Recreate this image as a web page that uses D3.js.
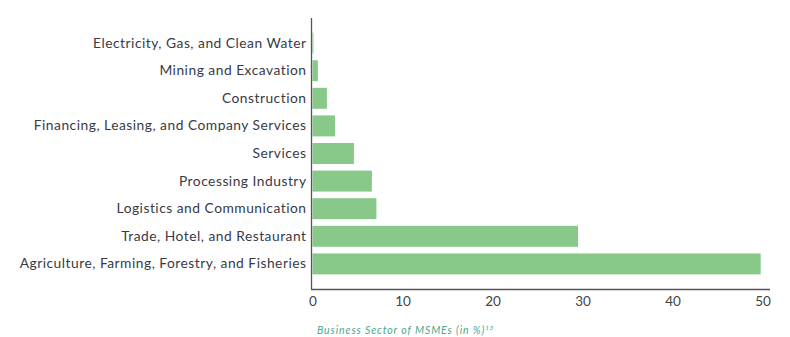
<!DOCTYPE html>
<html><head><meta charset="utf-8">
<script src="https://cdn.jsdelivr.net/npm/d3@7"></script>
<style>
html,body{margin:0;padding:0;background:#fff;}
svg{display:block;}
text{font-family:Lato,"Noto Sans",sans-serif;}
</style></head>
<body><svg id="c" width="790" height="337"></svg>
<script>
const categories = [
  "Electricity, Gas, and Clean Water",
  "Mining and Excavation",
  "Construction",
  "Financing, Leasing, and Company Services",
  "Services",
  "Processing Industry",
  "Logistics and Communication",
  "Trade, Hotel, and Restaurant",
  "Agriculture, Farming, Forestry, and Fisheries"
];
const values = [0.1, 0.6, 1.6, 2.5, 4.6, 6.6, 7.1, 29.5, 49.8];
const xTicks = [0, 10, 20, 30, 40, 50];
const caption = "Business Sector of MSMEs (in %)";
const captionSup = "13";

const svg = d3.select("#c");
const x = d3.scaleLinear().domain([0, 50]).range([312.5, 762.5]);
const y = d3.scaleBand().domain(categories).range([18, 289]).paddingInner(0.24).paddingOuter(0.53);

svg.append("g").selectAll("rect").data(values).join("rect")
  .attr("x", x(0))
  .attr("y", (d, i) => y(categories[i]))
  .attr("width", d => x(d) - x(0))
  .attr("height", y.bandwidth())
  .attr("fill", "#88c98a");

// y axis
const ya = svg.append("g").attr("transform", "translate(311.5,0)")
  .call(d3.axisLeft(y).tickSize(0).tickPadding(5));
ya.select(".domain").attr("stroke", "#555").attr("stroke-width", 1.3).attr("d", "M0,18V289");
ya.selectAll("text").attr("fill", "#383a45").style("font-size", "13.8px").style("letter-spacing", "0.5px");

// x axis
const xa = svg.append("g").attr("transform", "translate(0,289.5)")
  .call(d3.axisBottom(x).tickValues(xTicks).tickSize(0).tickPadding(7));
xa.select(".domain").attr("stroke", "#555").attr("stroke-width", 1.3).attr("d", "M311,0H770");
xa.selectAll("text").attr("fill", "#444").style("font-size", "13.5px");

const t = svg.append("text").attr("x", 317).attr("y", 334)
  .attr("fill", "#4aa88a").style("font-size", "10.5px").style("font-style", "italic").style("letter-spacing", "0.9px")
  .text(caption);
t.append("tspan").attr("dy", -4).style("font-size", "6.5px").style("letter-spacing", "0.5px").text(captionSup);
</script></body></html>
